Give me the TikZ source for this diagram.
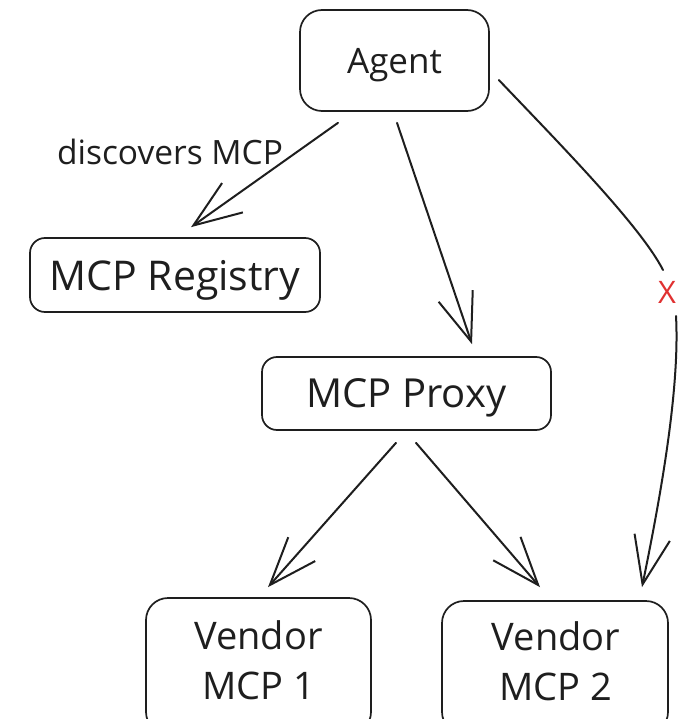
\documentclass[tikz,border=0pt]{standalone}
\usepackage{fontspec}
\setmainfont{Open Sans}
\usetikzlibrary{arrows.meta}
\definecolor{ink}{HTML}{1E1E1E}
\definecolor{crossred}{HTML}{E03131}
\begin{document}
\begin{tikzpicture}[x=1pt,y=-1pt,
  box/.style={draw=ink, line width=1.7pt, inner sep=0pt, text=ink, text depth=0pt},
  caption/.style={text=ink, inner sep=0pt},
  wire/.style={draw=ink, line width=2pt, line cap=round},
  flow/.style={wire, -{Straight Barb[length=48pt, width=36pt, line width=2pt]}}]
\useasboundingbox (0,0) rectangle (687,719);

% boxes
\node[box, rounded corners=22pt, minimum width=189pt, minimum height=101pt,
      font=\fontsize{35}{42}\selectfont] (agent) at (394.5,60.5) {Agent};
\node[box, rounded corners=15pt, minimum width=290pt, minimum height=74pt,
      font=\fontsize{41}{49}\selectfont] (registry) at (175,275) {MCP Registry};
\node[box, rounded corners=15pt, minimum width=289pt, minimum height=73pt,
      font=\fontsize{40}{48}\selectfont] (proxy) at (406.5,393.5) {MCP Proxy};
\node[box, rounded corners=22pt, minimum width=225pt, minimum height=136pt] (v1) at (258.5,666) {};
\node[box, rounded corners=22pt, minimum width=226pt, minimum height=133pt] (v2) at (555,667.5) {};
\node[caption, align=center, font=\fontsize{38}{50}\selectfont] (v1t) at (258.5,660) {Vendor\\MCP 1};
\node[caption, align=center, font=\fontsize{38}{50}\selectfont] (v2t) at (556,661) {Vendor\\MCP 2};

% labels
\node[caption, font=\fontsize{33.5}{40}\selectfont] (disc) at (170,152) {discovers MCP};
\node[caption, text=crossred, font=\fontsize{31}{36}\selectfont] (xmark) at (667,292) {X};

% connectors
\draw[flow] ([xshift=-56.5pt,yshift=-11pt]agent.south) -- ([xshift=16pt,yshift=10pt]registry.north);
\draw[flow] ([xshift=2.5pt,yshift=-11pt]agent.south) -- ([xshift=65.5pt,yshift=12pt]proxy.north);
\draw[flow] ([xshift=-10.5pt,yshift=-12pt]proxy.south) -- ([xshift=9.5pt,yshift=10pt]v1.north);
\draw[flow] ([xshift=9.5pt,yshift=-12pt]proxy.south) -- ([xshift=-15pt,yshift=13pt]v2.north);
\draw[wire] ([xshift=9pt,yshift=-19.5pt]agent.east) .. controls +(57,60) and +(-23,-45) .. ([xshift=-4pt,yshift=22pt]xmark.center);
\draw[flow] ([xshift=9pt,yshift=-24pt]xmark.center) .. controls +(4,74) and +(18,-88) .. ([xshift=87pt,yshift=13pt]v2.north);
\end{tikzpicture}
\end{document}
